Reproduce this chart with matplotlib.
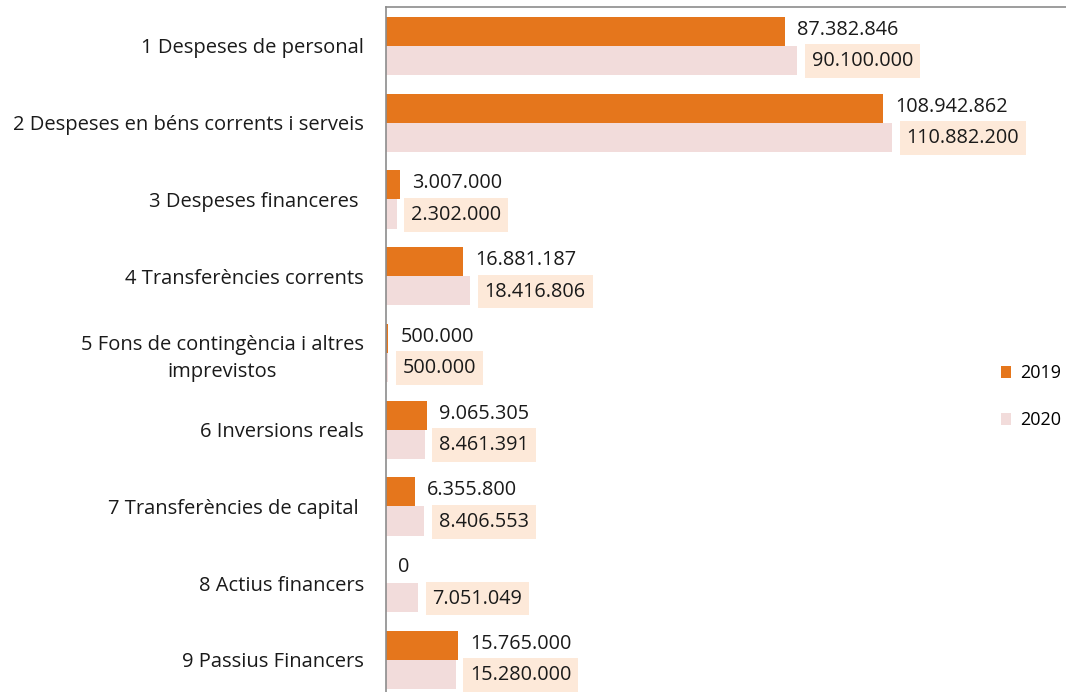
import matplotlib.pyplot as plt
from matplotlib.patches import Patch

plt.rcParams['font.family'] = ['Open Sans', 'DejaVu Sans']

# Data
categories = ['1 Despeses de personal',
              '2 Despeses en béns corrents i serveis',
              '3 Despeses financeres ',
              '4 Transferències corrents',
              '5 Fons de contingència i altres\nimprevistos',
              '6 Inversions reals',
              '7 Transferències de capital ',
              '8 Actius financers',
              '9 Passius Financers']
values_2019 = [87382846, 108942862, 3007000, 16881187, 500000, 9065305, 6355800, 0, 15765000]
values_2020 = [90100000, 110882200, 2302000, 18416806, 500000, 8461391, 8406553, 7051049, 15280000]
years = ['2019', '2020']

c2019 = '#E5761C'
c2020 = '#F2DCDB'
box_col = '#FDE9D9'


def fmt(v):
    return f'{v:,}'.replace(',', '.')


fig = plt.figure(figsize=(10.66, 6.92), dpi=100)
ax = fig.add_axes([386 / 1066, 0, 680 / 1066, 685 / 692])

h = 0.378
pos = list(range(len(categories)))
ax.barh([p - h / 2 for p in pos], values_2019, height=h, color=c2019)
ax.barh([p + h / 2 for p in pos], values_2020, height=h, color=c2020)

ax.set_xlim(0, 149e6)
ax.set_ylim(8.417, -0.508)

off = 1e6 * 12 / 4.56
for p, v in zip(pos, values_2019):
    ax.text(v + off, p - h / 2 - 0.02, fmt(v), va='center', ha='left', fontsize=14.3, color='#1a1a1a')
for p, v in zip(pos, values_2020):
    ax.text(v + off * 1.2, p + h / 2 + 0.01, fmt(v), va='center', ha='left', fontsize=14.3, color='#1a1a1a',
            bbox=dict(boxstyle='square,pad=0.35', facecolor=box_col, edgecolor='none'))

ax.set_yticks(pos)
ax.set_yticklabels(categories, fontsize=14.5, color='#1a1a1a', multialignment='center', linespacing=1.45)
ax.tick_params(axis='y', length=0, pad=16)
ax.set_xticks([])

for s in ['right', 'bottom']:
    ax.spines[s].set_visible(False)
for s in ['left', 'top']:
    ax.spines[s].set_color('#8c8c8c')
    ax.spines[s].set_linewidth(1.2)

handles = [Patch(facecolor=c2019, label=years[0]), Patch(facecolor=c2020, label=years[1])]
ax.legend(handles=handles, loc='center left', bbox_to_anchor=(0.88, 0.431), frameon=False,
          handlelength=0.6, handleheight=0.6, handletextpad=0.5, labelspacing=1.6, fontsize=13)

fig.savefig('out.png', dpi=100)
